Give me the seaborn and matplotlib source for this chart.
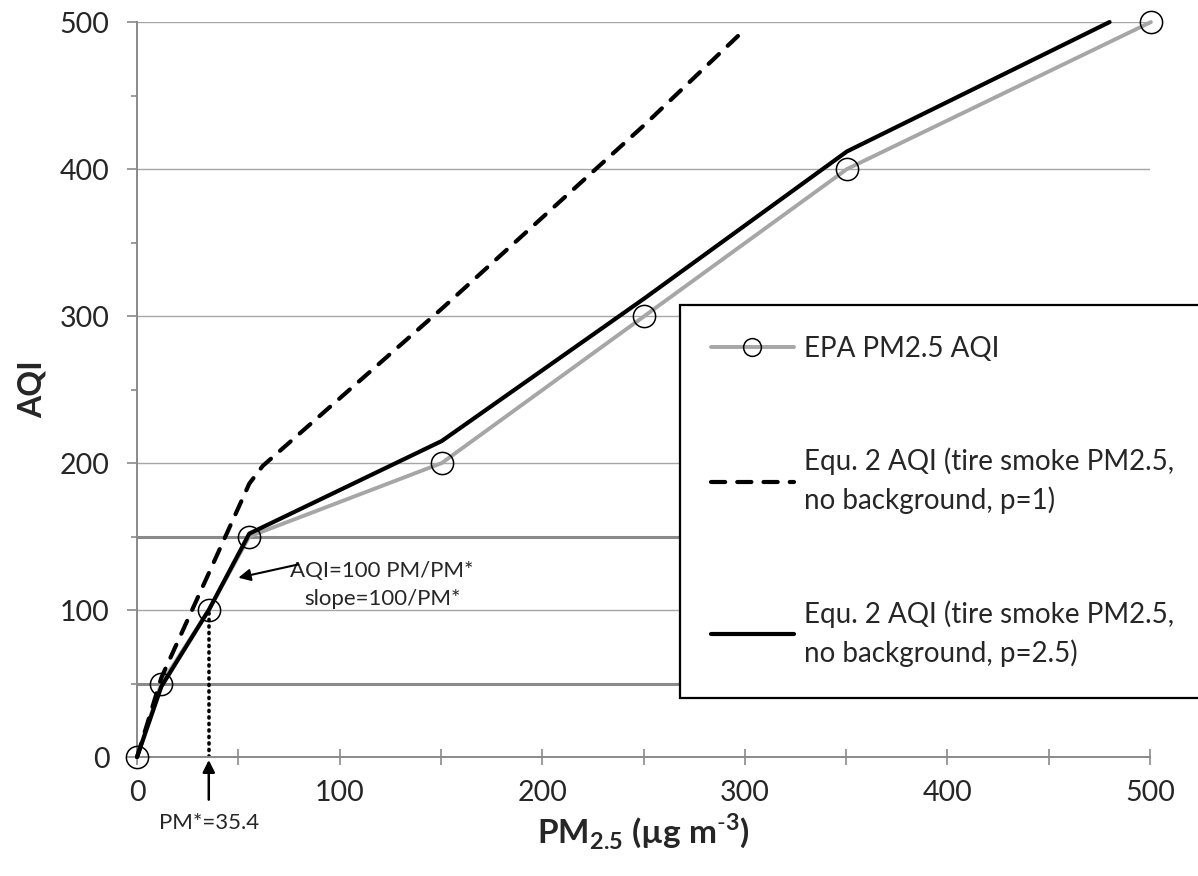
import matplotlib
matplotlib.use("Agg")
import matplotlib.pyplot as plt
import seaborn as sns
import pandas as pd
from matplotlib.ticker import MultipleLocator

# EPA PM2.5 AQI breakpoints
epa_pm = [0, 12, 35.4, 55.4, 150.4, 250.4, 350.4, 500.4]
epa_aqi = [0, 50, 100, 150, 200, 300, 400, 500]

# Equ. 2, p=1 (dashed)
p1_pm = [0, 12, 35.4, 55.4, 62, 150.4, 250.4, 300]
p1_aqi = [0, 54, 125, 186, 198, 305, 430, 495]

# Equ. 2, p=2.5 (solid)
p25_pm = [0, 12, 35.4, 55.4, 150.4, 250.4, 350.4, 480]
p25_aqi = [0, 48, 100, 152, 215, 312, 412, 500]

pm_star = 35.4
aqi_star = 100
ref_levels = [50, 150]

labels = ["EPA PM2.5 AQI",
          "Equ. 2 AQI (tire smoke PM2.5,\nno background, p=1)",
          "Equ. 2 AQI (tire smoke PM2.5,\nno background, p=2.5)"]

sns.set_style("ticks")
plt.rcParams['font.family'] = ['Lato', 'DejaVu Sans']
plt.rcParams['mathtext.fontset'] = 'custom'
plt.rcParams['mathtext.rm'] = 'Lato'
plt.rcParams['mathtext.bf'] = 'Lato:bold'

fig = plt.figure(figsize=(11.98, 8.76), dpi=100)
ax = fig.add_axes([0.1144, 0.1358, 0.8456, 0.8390])

# grid + heavier reference lines at 50 / 150
ax.yaxis.grid(True, which='major', color='#a6a6a6', lw=1.0, zorder=0)
for lv in ref_levels:
    ax.axhline(lv, color='#8a8a8a', lw=2.2, zorder=1)

df_epa = pd.DataFrame({'pm': epa_pm, 'aqi': epa_aqi})
df_p1 = pd.DataFrame({'pm': p1_pm, 'aqi': p1_aqi})
df_p25 = pd.DataFrame({'pm': p25_pm, 'aqi': p25_aqi})

sns.lineplot(data=df_epa, x='pm', y='aqi', ax=ax, color='#a6a6a6', lw=2.8,
             marker='o', markersize=16, mfc='none', mec='black', mew=1.1,
             estimator=None, sort=False, clip_on=False, zorder=3, label=labels[0])
sns.lineplot(data=df_p1, x='pm', y='aqi', ax=ax, color='black', lw=3.0,
             estimator=None, sort=False, clip_on=False, zorder=4,
             label=labels[1])
sns.lineplot(data=df_p25, x='pm', y='aqi', ax=ax, color='black', lw=3.0,
             estimator=None, sort=False, clip_on=False, zorder=5, label=labels[2])
ax.lines[-2].set_linestyle((0, (3.4, 2.9)))
ax.lines[-2].set_dash_capstyle('round')

# dotted line at PM*
ax.plot([pm_star, pm_star], [0, aqi_star], color='black', lw=2.6,
        ls=(0, (0.3, 1.5)), dash_capstyle='round', zorder=2)

# annotations
ax.text(121, 117, "AQI=100 PM/PM*\nslope=100/PM*", ha='center', va='center',
        multialignment='center', fontsize=16, linespacing=1.45)
ax.annotate('', xy=(50, 122), xytext=(79.5, 131),
            arrowprops=dict(arrowstyle='-|>', color='black', lw=1.5,
                            mutation_scale=18, shrinkA=0, shrinkB=0))
ax.annotate('', xy=(pm_star, -2), xytext=(pm_star, -29),
            arrowprops=dict(arrowstyle='-|>', color='black', lw=1.8,
                            mutation_scale=18, shrinkA=0, shrinkB=0),
            annotation_clip=False)
ax.text(pm_star, -45, "PM*=35.4", ha='center', va='center', fontsize=16,
        clip_on=False)

ax.set_xlim(0, 500)
ax.set_ylim(0, 500)
ax.xaxis.set_major_locator(MultipleLocator(100))
ax.xaxis.set_minor_locator(MultipleLocator(50))
ax.yaxis.set_major_locator(MultipleLocator(100))
ax.yaxis.set_minor_locator(MultipleLocator(50))

for s in ['top', 'right']:
    ax.spines[s].set_visible(False)
for s in ['left', 'bottom']:
    ax.spines[s].set_color('#8a8a8a')
    ax.spines[s].set_linewidth(1.4)

ax.tick_params(axis='x', which='both', direction='inout', length=11, width=1.2,
               color='#8a8a8a', labelsize=20.5, pad=11)
ax.tick_params(axis='y', which='major', direction='out', length=7, width=1.2,
               color='#8a8a8a', labelsize=20.5, pad=13)
ax.tick_params(axis='y', which='minor', direction='out', length=4.5, width=1.2,
               color='#8a8a8a')

ax.set_xlabel(r'PM$_{\mathbf{2.5}}$ (µg m$^{\mathbf{\text{-}3}}$)', fontsize=24,
              fontweight='bold', labelpad=4)
ax.set_ylabel('AQI', fontsize=23, fontweight='bold', labelpad=9)

# legend box runs off the right edge of the figure, as in the original
handles, lbls = ax.get_legend_handles_labels()
leg = ax.legend(handles, lbls, loc='upper left', mode='expand',
                bbox_to_anchor=(680 / 1198, 1 - 306 / 876, 650 / 1198, 0.001),
                bbox_transform=fig.transFigure, borderaxespad=0,
                fontsize=20, frameon=True,
                fancybox=False, edgecolor='black', borderpad=1.1,
                labelspacing=3.1, handlelength=3.0, handletextpad=0.36,
                markerscale=0.8)
leg.get_frame().set_linewidth(1.6)
leg.get_frame().set_alpha(1)
for t in leg.get_texts():
    t.set_linespacing(1.5)

fig.savefig('out.png', dpi=100)
